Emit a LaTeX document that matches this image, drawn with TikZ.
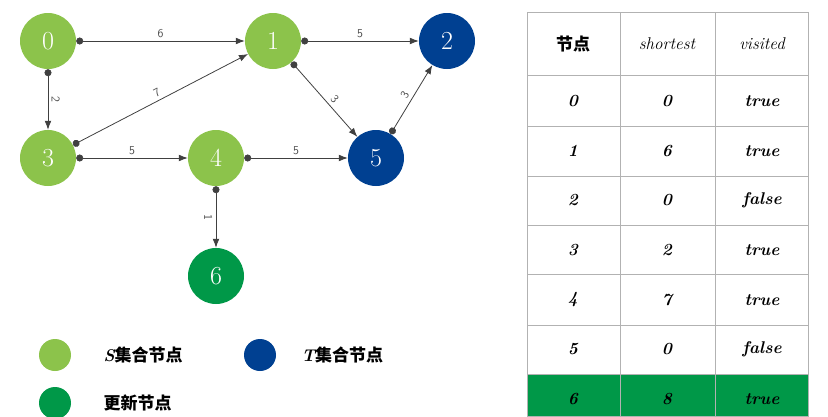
\documentclass[tikz,border=0pt]{standalone}
\usepackage{fontspec}
\newfontfamily\cjk{Noto Sans CJK SC}
\usetikzlibrary{arrows.meta}
\definecolor{sgreen}{RGB}{140,195,75}
\definecolor{tblue}{RGB}{0,64,145}
\definecolor{ugreen}{RGB}{0,152,72}
\tikzset{
  vtx/.style = {circle, minimum size=56pt, inner sep=0pt, text=white, font=\fontsize{26}{26}\selectfont},
  edge/.style = {draw, black!75, line width=0.8pt, {Circle[length=7pt]}-{Latex[length=9pt]}},
  wlabel/.style = {font=\sffamily\fontsize{12}{12}\selectfont, text=black!70},
  cell/.style = {font=\bfseries\itshape\fontsize{17}{17}\selectfont},
  legdot/.style = {circle, minimum size=32pt, inner sep=0pt}
}
\begin{document}
\begin{tikzpicture}[x=1pt, y=-1pt]
    \useasboundingbox (0,0) rectangle (828,416);
    % graph
    \node [vtx, fill=sgreen] (v0) at (48,41) {0};
    \node [vtx, fill=sgreen] (v1) at (273,41) {1};
    \node [vtx, fill=tblue] (v2) at (447,41) {2};
    \node [vtx, fill=sgreen] (v3) at (48,158) {3};
    \node [vtx, fill=sgreen] (v4) at (216,158) {4};
    \node [vtx, fill=tblue] (v5) at (376,158) {5};
    \node [vtx, fill=ugreen] (v6) at (216,276) {6};

    \path [edge] (v0) -- node [wlabel, above] {6} (v1);
    \path [edge] (v1) -- node [wlabel, above] {5} (v2);
    \path [edge] (v1) -- node [wlabel, above right, sloped] {3} (v5);
    \path [edge] (v5) -- node [wlabel, above, sloped] {3} (v2);
    \path [edge] (v0) -- node [wlabel, right, rotate=-90, anchor=south] {2} (v3);
    \path [edge] (v3) -- node [wlabel, above, sloped] {7} (v1);
    \path [edge] (v3) -- node [wlabel, above] {5} (v4);
    \path [edge] (v4) -- node [wlabel, above] {5} (v5);
    \path [edge] (v4) -- node [wlabel, rotate=-90, anchor=north] {1} (v6);

    % legend
    \node [legdot, fill=sgreen] (ls) at (55,355) {};
    \node [legdot, fill=tblue] (lt) at (260,355) {};
    \node [legdot, fill=ugreen] (lu) at (55,403) {};
    \node [cell, anchor=west] at (100,355) {S{\cjk\bfseries 集合节点}};
    \node [cell, anchor=west] at (298,355) {T{\cjk\bfseries 集合节点}};
    \node [cell, anchor=west] at (100,403) {\cjk\bfseries 更新节点};

    % table
    \fill [ugreen] (527,374) rectangle (808,416);
    \draw [black!30] (527,12) rectangle (808,416);
    \foreach \y in {75,126,176,225,274,325,374}
        \draw [black!30] (527,\y) -- (808,\y);
    \draw [black!30] (620,12) -- (620,416);
    \draw [black!30] (715,12) -- (715,416);
    \node [cell] (h0) at (573,44) {\cjk\bfseries 节点};
    \node [cell, font=\itshape\fontsize{17}{17}\selectfont] (h1) at (667,44) {shortest};
    \node [cell, font=\itshape\fontsize{17}{17}\selectfont] (h2) at (762,44) {visited};
    \foreach \i/\s/\v [evaluate=\i as \yy using 101+49.7*\i] in {0/0/true,1/6/true,2/0/false,3/2/true,4/7/true,5/0/false,6/8/true}{
        \node [cell] at (573,\yy) {\i};
        \node [cell] at (667,\yy) {\s};
        \node [cell] at (762,\yy) {\v};
    }
\end{tikzpicture}
\end{document}
